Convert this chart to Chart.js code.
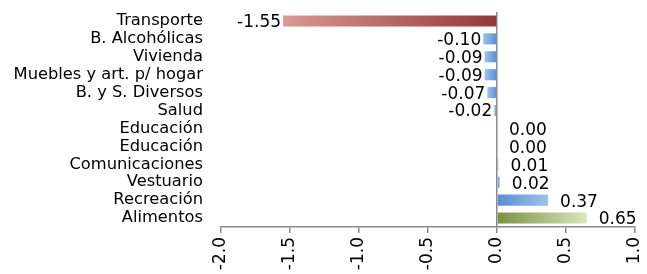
<!DOCTYPE html>
<html>
<head>
<meta charset="utf-8">
<script src="https://cdn.jsdelivr.net/npm/chart.js@4.4.1/dist/chart.umd.min.js"></script>
<style>
  html, body { margin: 0; padding: 0; background: #ffffff; }
  #wrap { width: 647px; height: 274px; }
</style>
</head>
<body>
<div id="wrap"><canvas id="c" width="647" height="274"></canvas></div>
<script>
const categories = ['Transporte', 'B. Alcohólicas', 'Vivienda', 'Muebles y art. p/ hogar', 'B. y S. Diversos', 'Salud', 'Educación', 'Educación', 'Comunicaciones', 'Vestuario', 'Recreación', 'Alimentos'];
const values = [-1.55, -0.10, -0.09, -0.09, -0.07, -0.02, 0.00, 0.00, 0.01, 0.02, 0.37, 0.65];
const xTickLabels = ['-2.0', '-1.5', '-1.0', '-0.5', '0.0', '0.5', '1.0'];

// style: [base colour, end colour] for each bar's gradient
const RED = ['#953735', '#DA9896'];
const BLUE = ['#558ED5', '#A3C2EA'];
const GREEN = ['#77933C', '#D9E5C0'];
const barStyles = [RED, BLUE, BLUE, BLUE, BLUE, BLUE, BLUE, BLUE, BLUE, BLUE, BLUE, GREEN];

const FONT = 'DejaVu Sans';

function gradientFor(c) {
  const st = barStyles[c.dataIndex] || BLUE;
  const chart = c.chart;
  if (!chart.chartArea || !chart.scales.x) return st[0];
  const xs = chart.scales.x;
  const x0 = xs.getPixelForValue(0);
  const x1 = xs.getPixelForValue(c.raw);
  if (Math.abs(x1 - x0) < 1) return st[0];
  const g = chart.ctx.createLinearGradient(x0, 0, x1, 0);
  g.addColorStop(0, st[0]);
  g.addColorStop(1, st[1]);
  return g;
}

const labelPlugin = {
  id: 'valueLabels',
  afterDatasetsDraw(chart) {
    const ctx = chart.ctx;
    const meta = chart.getDatasetMeta(0);
    ctx.save();
    ctx.font = '17px "' + FONT + '"';
    ctx.fillStyle = '#000000';
    ctx.textBaseline = 'middle';
    meta.data.forEach((bar, i) => {
      const v = values[i];
      const txt = v.toFixed(2);
      if (v < 0) {
        ctx.textAlign = 'right';
        ctx.fillText(txt, bar.x - 2, bar.y + 1.5);
      } else {
        ctx.textAlign = 'left';
        ctx.fillText(txt, bar.x + 12, bar.y + 2);
      }
    });
    ctx.restore();
  }
};

new Chart(document.getElementById('c'), {
  type: 'bar',
  data: {
    labels: categories,
    datasets: [{
      data: values,
      backgroundColor: gradientFor,
      borderWidth: 0,
      barPercentage: 0.62,
      categoryPercentage: 1.0
    }]
  },
  plugins: [labelPlugin],
  options: {
    indexAxis: 'y',
    responsive: false,
    animation: false,
    layout: { padding: { top: 12, right: 12, left: 0, bottom: 0 } },
    plugins: { legend: { display: false }, tooltip: { enabled: false } },
    scales: {
      x: {
        min: -2,
        max: 1,
        ticks: {
          stepSize: 0.5,
          minRotation: 90,
          maxRotation: 90,
          padding: 4,
          color: '#000000',
          font: { family: FONT, size: 17 },
          callback: function (v, i) { return xTickLabels[i] !== undefined ? xTickLabels[i] : Number(v).toFixed(1); }
        },
        grid: {
          color: (c) => (c.tick && Math.abs(c.tick.value) < 1e-9) ? '#8a8a8a' : 'rgba(0,0,0,0)',
          lineWidth: 1.5,
          drawTicks: true,
          tickLength: 6,
          tickColor: '#8a8a8a',
          tickWidth: 1.5
        },
        border: { display: true, color: '#8a8a8a', width: 1.5 },
        afterFit: (s) => { s.height = 47; s.paddingLeft = 0; s.paddingRight = 0; s.paddingTop = 0; s.paddingBottom = 0; }
      },
      y: {
        ticks: {
          color: '#000000',
          padding: 18,
          font: { family: FONT, size: 16.3 },
          autoSkip: false
        },
        grid: { display: false, drawTicks: false },
        border: { display: false },
        afterFit: (s) => { s.width = 221; s.paddingLeft = 0; s.paddingRight = 0; s.paddingTop = 0; s.paddingBottom = 0; }
      }
    }
  }
});
</script>
</body>
</html>
